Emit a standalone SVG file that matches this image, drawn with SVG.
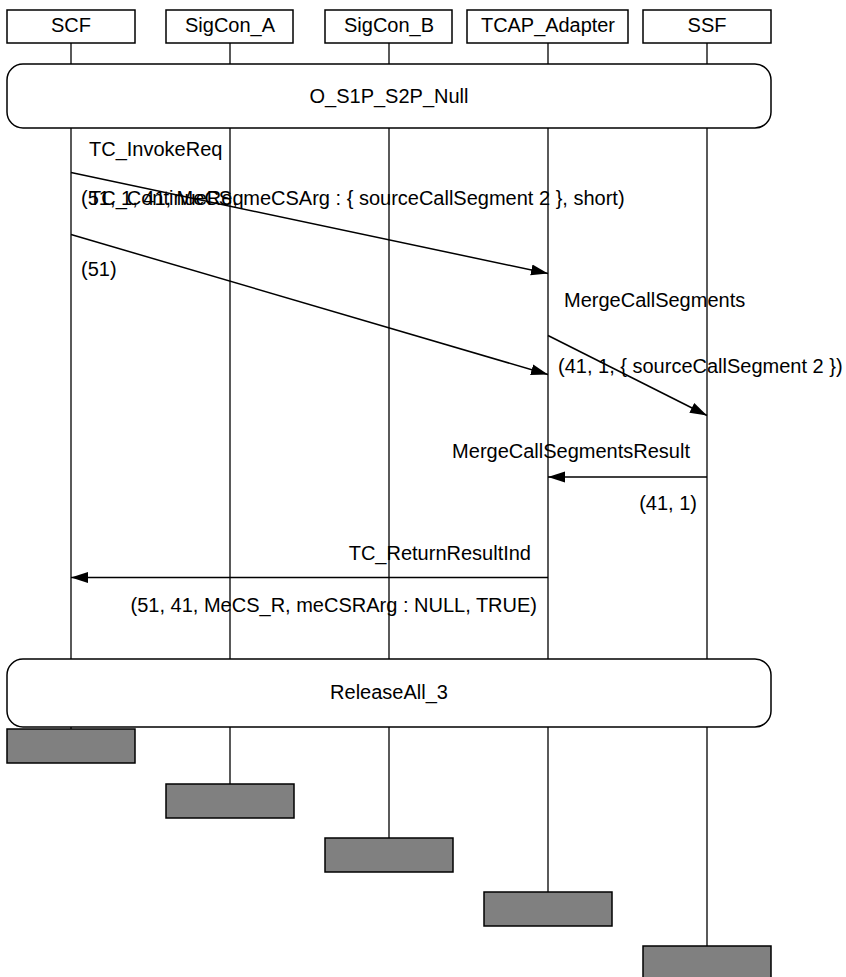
<svg xmlns="http://www.w3.org/2000/svg" width="846" height="977" viewBox="0 0 846 977">
<style>
text{font-family:"Liberation Sans",Arial,sans-serif;font-size:20px;fill:#000}
.box{fill:#fff;stroke:#000;stroke-width:1.5}
.ref{fill:#fff;stroke:#000;stroke-width:1.5}
.end{fill:#808080;stroke:#000;stroke-width:1.5}
.life{stroke:#000;stroke-width:1.3;fill:none}
.msg{stroke:#000;stroke-width:1.5;fill:none;marker-end:url(#ah)}
.c{text-anchor:middle}
.r{text-anchor:end}
</style>
<defs>
<marker id="ah" markerUnits="userSpaceOnUse" markerWidth="18" markerHeight="12" refX="17" refY="6" orient="auto">
<path d="M0,0.5 L17,6 L0,11.5 z" fill="#000"/>
</marker>
</defs>
<g id="lifelines">
<line class="life" x1="71" y1="43" x2="71" y2="729"/>
<line class="life" x1="230" y1="43" x2="230" y2="784"/>
<line class="life" x1="389" y1="43" x2="389" y2="838"/>
<line class="life" x1="548" y1="43" x2="548" y2="892"/>
<line class="life" x1="707" y1="43" x2="707" y2="946"/>
</g>
<g id="SCF"><rect class="box" x="7" y="10" width="128" height="33"/><text class="c" x="71" y="32">SCF</text></g>
<g id="SigCon_A"><rect class="box" x="166" y="10" width="127" height="33"/><text class="c" x="230" y="32">SigCon_A</text></g>
<g id="SigCon_B"><rect class="box" x="325" y="10" width="127" height="33"/><text class="c" x="389" y="32">SigCon_B</text></g>
<g id="TCAP_Adapter"><rect class="box" x="467" y="10" width="161" height="33"/><text x="481" y="32" textLength="134" lengthAdjust="spacingAndGlyphs">TCAP_Adapter</text></g>
<g id="SSF"><rect class="box" x="643" y="10" width="128" height="33"/><text class="c" x="707" y="32">SSF</text></g>
<g id="O_S1P_S2P_Null"><rect class="ref" x="7" y="64" width="764" height="64" rx="16" ry="16"/><text class="c" x="389" y="103">O_S1P_S2P_Null</text></g>
<g id="connectors">
<line class="msg" x1="71" y1="172.5" x2="548" y2="273.5"/>
<line class="msg" x1="71" y1="234.5" x2="548" y2="374.5"/>
<line class="msg" x1="548" y1="335.5" x2="707" y2="415.5"/>
<line class="msg" x1="707" y1="477" x2="548" y2="477"/>
<line class="msg" x1="548" y1="577.5" x2="71" y2="577.5"/>
</g>
<g id="labels">
<text x="89" y="156">TC_InvokeReq</text>
<text x="81" y="205">(51, 1, 41, MeCS, meCSArg : { sourceCallSegment 2 }, short)</text>
<text x="89" y="205">TC_ContinueReq</text>
<text x="81" y="276">(51)</text>
<text x="564" y="307">MergeCallSegments</text>
<text x="558" y="373">(41, 1, { sourceCallSegment 2 })</text>
<text class="r" x="690" y="458">MergeCallSegmentsResult</text>
<text class="r" x="697" y="510">(41, 1)</text>
<text class="r" x="531" y="560">TC_ReturnResultInd</text>
<text class="r" x="537" y="612">(51, 41, MeCS_R, meCSRArg : NULL, TRUE)</text>
</g>
<g id="ReleaseAll_3"><rect class="ref" x="7" y="659" width="764" height="68" rx="16" ry="16"/><text class="c" x="389" y="699">ReleaseAll_3</text></g>
<g id="SCF_end"><rect class="end" x="7" y="729" width="128" height="34"/></g>
<g id="SigCon_A_end"><rect class="end" x="166" y="784" width="128" height="34"/></g>
<g id="SigCon_B_end"><rect class="end" x="325" y="838" width="128" height="34"/></g>
<g id="TCAP_Adapter_end"><rect class="end" x="484" y="892" width="128" height="34"/></g>
<g id="SSF_end"><rect class="end" x="643" y="946" width="128" height="34"/></g>
</svg>
